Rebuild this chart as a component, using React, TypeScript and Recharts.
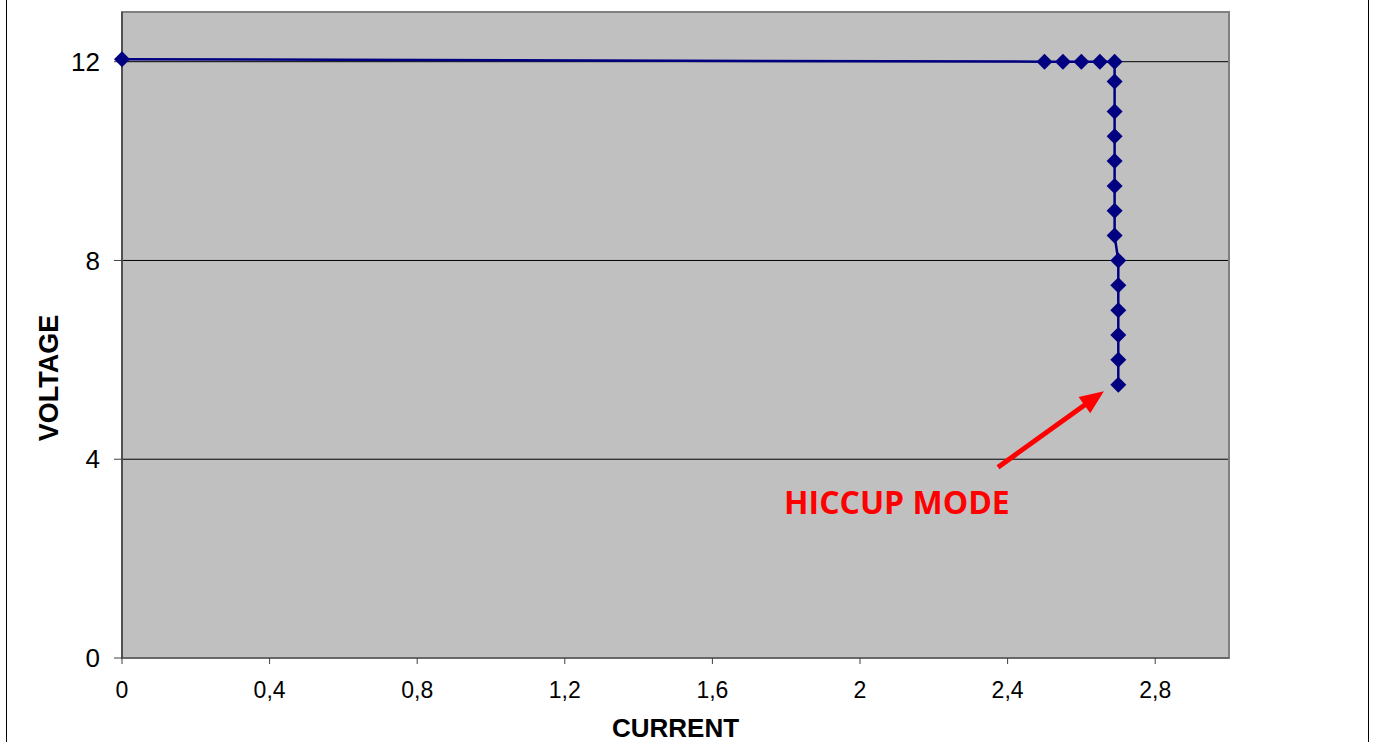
import React from 'react';
import { LineChart, Line, XAxis, YAxis, CartesianGrid, ReferenceArea, ReferenceLine, ReferenceDot } from 'recharts';

// measured points: current (A) vs output voltage (V)
const current = [0, 2.5, 2.55, 2.6, 2.65, 2.69, 2.69, 2.69, 2.69, 2.69, 2.69, 2.69, 2.69, 2.7, 2.7, 2.7, 2.7, 2.7, 2.7];
const voltage = [12.05, 12.0, 12.0, 12.0, 12.0, 12.0, 11.6, 11.0, 10.5, 10.0, 9.5, 9.0, 8.5, 8.0, 7.5, 7.0, 6.5, 6.0, 5.5];

const xTicks = [0, 0.4, 0.8, 1.2, 1.6, 2, 2.4, 2.8];
const yTicks = [0, 4, 8, 12];

const annotationText = 'HICCUP MODE';
const arrowFrom = { x: 2.374, y: 3.84 };
const arrowTo = { x: 2.661, y: 5.37 };
const textAt = { x: 2.1, y: 2.89 };

const data = current.map((c, i) => ({ current: c, voltage: voltage[i] }));

const NAVY = '#000080';
const RED = '#ff0000';

const Diamond = (props: any) => {
  const { cx, cy } = props;
  if (cx == null || cy == null) return null;
  const r = 8;
  return <path d={`M${cx},${cy - r}L${cx + r},${cy}L${cx},${cy + r}L${cx - r},${cy}Z`} fill={NAVY} />;
};

const Arrow = (props: any) => {
  const { x1, y1, x2, y2 } = props;
  const dx = x2 - x1;
  const dy = y2 - y1;
  const len = Math.sqrt(dx * dx + dy * dy);
  const ux = dx / len;
  const uy = dy / len;
  const headLen = 24;
  const headW = 10;
  const bx = x2 - ux * headLen;
  const by = y2 - uy * headLen;
  return (
    <g>
      <line x1={x1} y1={y1} x2={bx + ux * 2} y2={by + uy * 2} stroke={RED} strokeWidth={5} />
      <path
        d={`M${x2},${y2}L${bx - uy * headW},${by + ux * headW}L${bx + uy * headW},${by - ux * headW}Z`}
        fill={RED}
      />
    </g>
  );
};

const HiccupLabel = (props: any) => (
  <text
    x={props.cx}
    y={props.cy}
    textAnchor="middle"
    fill={RED}
    fontFamily="'Open Sans', sans-serif"
    fontWeight="bold"
    fontSize={32}
  >
    {annotationText}
  </text>
);

const VoltageTitle = (props: any) => {
  const vb = props.viewBox || {};
  const cx = vb.x + 27;
  const cy = vb.y + vb.height / 2 + 43;
  return (
    <text
      x={cx}
      y={cy}
      transform={`rotate(-90 ${cx} ${cy})`}
      textAnchor="middle"
      dominantBaseline="central"
      fontFamily="'Liberation Sans', Arial, sans-serif"
      fontWeight="bold"
      fontSize={27}
      fill="#000"
    >
      VOLTAGE
    </text>
  );
};

const fmt = (v: number) => String(v).replace('.', ',');

export default function App() {
  return (
    <div style={{ position: 'relative', width: 1375, height: 742, background: '#fff', overflow: 'hidden' }}>
      <style>{'body{margin:0}'}</style>
      <div
        style={{
          position: 'absolute',
          left: 6,
          top: -10,
          width: 1361,
          height: 800,
          borderLeft: '1px solid #000',
          borderRight: '1px solid #000',
        }}
      />
      <LineChart
        width={1375}
        height={742}
        data={data}
        margin={{ top: 12, right: 146, bottom: 0, left: 22 }}
        style={{ position: 'absolute', left: 0, top: 0 }}
      >
        <CartesianGrid vertical={false} fill="#c0c0c0" stroke="#000" strokeWidth={1} horizontalValues={[4, 8, 12]} />
        <ReferenceArea x1={0} x2={3} y1={0} y2={13} fill="none" stroke="#808080" strokeWidth={2} />
        <XAxis
          type="number"
          dataKey="current"
          domain={[0, 3]}
          ticks={xTicks}
          tickFormatter={fmt}
          height={84}
          tickSize={6}
          tickMargin={18}
          axisLine={{ stroke: '#606060', strokeWidth: 1.5 }}
          tickLine={{ stroke: '#404040' }}
          tick={{ fill: '#000', fontSize: 23, fontFamily: "'Liberation Sans', Arial, sans-serif" }}
          label={{
            value: 'CURRENT',
            position: 'insideBottom',
            offset: 5,
            fill: '#000',
            fontSize: 26,
            fontWeight: 'bold',
            fontFamily: "'Liberation Sans', Arial, sans-serif",
          }}
        />
        <YAxis
          type="number"
          dataKey="voltage"
          domain={[0, 13]}
          ticks={yTicks}
          width={100}
          tickSize={8}
          tickMargin={14}
          axisLine={{ stroke: '#404040', strokeWidth: 1.5 }}
          tickLine={{ stroke: '#404040' }}
          tick={{ fill: '#000', fontSize: 26, fontFamily: "'Liberation Sans', Arial, sans-serif" }}
          label={{ content: <VoltageTitle /> }}
        />
        <ReferenceLine segment={[arrowFrom, arrowTo]} shape={<Arrow />} />
        <ReferenceDot x={textAt.x} y={textAt.y} r={0} shape={<HiccupLabel />} />
        <Line
          type="linear"
          dataKey="voltage"
          stroke={NAVY}
          strokeWidth={2.5}
          dot={<Diamond />}
          activeDot={false}
          isAnimationActive={false}
        />
      </LineChart>
    </div>
  );
}
